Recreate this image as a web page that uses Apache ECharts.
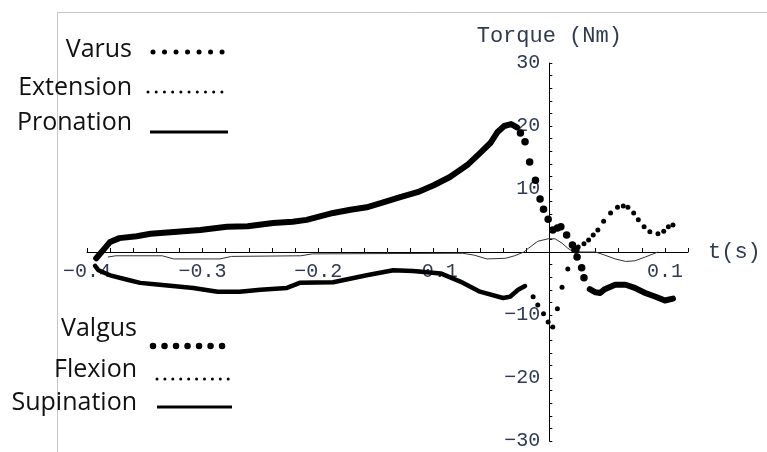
<!DOCTYPE html>
<html>
<head>
<meta charset="utf-8">
<script src="https://cdn.jsdelivr.net/npm/echarts/dist/echarts.min.js"></script>
<style>
  html, body { margin: 0; padding: 0; background: #fff; }
  #chart { width: 767px; height: 452px; }
</style>
</head>
<body>
<div id="chart"></div>
<script>
// varus (+) / valgus (-) : big dots. dense stretches drawn as a thick band
const varusRise = [
  [-0.392, -1.0], [-0.386, 0.3], [-0.380, 1.6], [-0.372, 2.2], [-0.357, 2.5],
  [-0.345, 2.9], [-0.322, 3.2], [-0.302, 3.5], [-0.279, 4.0], [-0.261, 4.1],
  [-0.239, 4.6], [-0.222, 4.8], [-0.210, 5.1], [-0.187, 6.2], [-0.172, 6.7],
  [-0.158, 7.1], [-0.143, 7.9], [-0.129, 8.7], [-0.114, 9.5], [-0.100, 10.6],
  [-0.086, 11.9], [-0.071, 13.8], [-0.060, 15.7], [-0.051, 17.3], [-0.045, 19.0],
  [-0.039, 20.0], [-0.033, 20.3], [-0.028, 19.8]
];
const varusFall = [
  [-0.025, 18.9], [-0.021, 17.5], [-0.017, 14.3], [-0.012, 11.4], [-0.008, 8.4],
  [-0.005, 6.8], [-0.001, 5.2], [0.003, 3.5], [0.007, 3.8], [0.010, 4.0],
  [0.015, 2.7], [0.020, 1.1], [0.023, 0.3], [0.024, -0.8], [0.028, -2.5],
  [0.030, -4.1]
];
const valgusTail = [
  [0.035, -5.9], [0.040, -6.4], [0.044, -6.5], [0.048, -5.9], [0.057, -5.2],
  [0.066, -5.2], [0.074, -5.7], [0.083, -6.5], [0.092, -7.1], [0.100, -7.7],
  [0.107, -7.4]
];

// extension (+) / flexion (-) : small dots
const flexionBand = [
  [-0.393, -2.2], [-0.390, -2.9], [-0.380, -3.7], [-0.365, -4.4], [-0.354, -4.9],
  [-0.337, -5.2], [-0.308, -5.7], [-0.287, -6.3], [-0.268, -6.3], [-0.250, -6.0],
  [-0.227, -5.7], [-0.216, -4.9], [-0.187, -4.8], [-0.158, -3.7], [-0.135, -2.9],
  [-0.118, -3.0], [-0.094, -3.4], [-0.077, -4.7], [-0.060, -6.3], [-0.040, -7.3],
  [-0.034, -7.1], [-0.027, -6.0], [-0.021, -5.4]
];
const extensionDots = [
  [-0.014, -7.1], [-0.010, -8.4], [-0.005, -9.8], [-0.001, -11.1], [0.003, -11.9],
  [0.007, -9.0], [0.011, -5.6], [0.016, -2.7], [0.021, 0.3], [0.025, 0.8],
  [0.030, 1.3], [0.034, 1.9], [0.038, 2.7], [0.042, 3.5], [0.047, 4.9],
  [0.053, 6.2], [0.059, 7.1], [0.064, 7.3], [0.068, 7.1], [0.073, 6.2],
  [0.077, 5.1], [0.082, 4.0], [0.087, 3.2], [0.094, 2.9], [0.099, 3.3],
  [0.103, 4.0], [0.107, 4.3]
];

// pronation (+) / supination (-) : thin line
const pronation = [
  [-0.382, -0.8], [-0.375, -0.6], [-0.335, -0.6], [-0.325, -1.1], [-0.285, -1.1],
  [-0.275, -0.7], [-0.215, -0.6], [-0.205, -0.3], [-0.075, -0.2], [-0.065, -0.5],
  [-0.054, -1.1], [-0.038, -1.0], [-0.030, -0.6], [-0.022, 0.0], [-0.018, 0.6],
  [-0.010, 1.7], [-0.001, 2.1], [0.005, 2.1], [0.011, 1.4], [0.016, 0.6],
  [0.021, 0.0], [0.040, 0.0], [0.048, -0.5], [0.057, -1.1], [0.066, -1.5],
  [0.074, -1.4], [0.083, -0.8], [0.094, 0.0]
];

const xTickLabels = [-0.4, -0.3, -0.2, -0.1, 0.1];
const yTickLabels = [-30, -20, -10, 10, 20, 30];
const topLegend = ['Varus', 'Extension', 'Pronation'];
const bottomLegend = ['Valgus', 'Flexion', 'Supination'];

const monoFont = '"Liberation Mono", "DejaVu Sans Mono", monospace';
const labelColor = '#2f3b52';
const minus = s => String(s).replace('-', '\u2212');

function legendText(txt, x, y) {
  return {
    type: 'text', x: x, y: y,
    style: {
      text: txt, align: 'right', verticalAlign: 'middle',
      fontFamily: '"Open Sans", "Noto Sans", sans-serif', fontSize: 25, fill: '#111'
    }
  };
}
function legendDots(x1, x2, y, size, gap) {
  return {
    type: 'line', shape: {x1: x1, y1: y, x2: x2 + 1, y2: y},
    style: {stroke: '#000', lineWidth: size, lineCap: 'round', lineDash: [0.01, gap]}
  };
}
function legendLine(x1, x2, y) {
  return {type: 'line', shape: {x1: x1, y1: y, x2: x2, y2: y}, style: {stroke: '#000', lineWidth: 3}};
}

const chart = echarts.init(document.getElementById('chart'), null, {renderer: 'canvas'});

// axes cross at the origin: grid spans -0.4..0.12 and -30..30,
// the x axis is lifted to torque 0 and the y axis moved to t = 0 with offsets
const gridLeft = 87, gridRight = 79, gridTop = 63, gridBottom = 11;
const plotW = 767 - gridLeft - gridRight, plotH = 452 - gridTop - gridBottom;
const xMin = -0.4, xMax = 0.12, yMin = -30, yMax = 30;

chart.setOption({
  animation: false,
  backgroundColor: '#fff',
  grid: {left: gridLeft, right: gridRight, top: gridTop, bottom: gridBottom, outerBoundsMode: 'none', containLabel: false},
  xAxis: {
    type: 'value', min: xMin, max: xMax, interval: 0.02,
    offset: -plotH * (0 - yMin) / (yMax - yMin),
    axisLine: {onZero: false, lineStyle: {color: '#000', width: 1}},
    axisTick: {inside: true, length: 4, lineStyle: {color: '#000'}},
    axisLabel: {
      margin: 10, fontFamily: monoFont, fontSize: 20, color: labelColor,
      formatter: v => {
        const r = Math.round(v * 100) / 100;
        return xTickLabels.indexOf(r) >= 0 ? minus(r.toFixed(1)) : '';
      }
    },
    splitLine: {show: false},
    name: 't(s)', nameLocation: 'end', nameGap: 20,
    nameTextStyle: {fontFamily: monoFont, fontSize: 22, color: labelColor}
  },
  yAxis: {
    type: 'value', min: yMin, max: yMax, interval: 10,
    offset: -plotW * (0 - xMin) / (xMax - xMin),
    axisLine: {onZero: false, lineStyle: {color: '#000', width: 1}},
    axisTick: {inside: true, length: 3, lineStyle: {color: '#000'}},
    minorTick: {show: true, splitNumber: 5, length: 3, lineStyle: {color: '#000'}},
    axisLabel: {
      margin: 9, fontFamily: monoFont, fontSize: 20, color: labelColor,
      formatter: v => yTickLabels.indexOf(v) >= 0 ? minus(v) : ''
    },
    splitLine: {show: false},
    name: 'Torque (Nm)', nameLocation: 'end', nameGap: 16,
    nameTextStyle: {fontFamily: monoFont, fontSize: 22, color: labelColor}
  },
  series: [
    {
      type: 'line', data: pronation, showSymbol: false, silent: true,
      lineStyle: {color: '#333', width: 1}, z: 1
    },
    {
      type: 'line', data: varusRise, showSymbol: false, silent: true,
      lineStyle: {color: '#000', width: 6, cap: 'round', join: 'round'}, z: 3
    },
    {
      type: 'scatter', data: varusFall, symbol: 'circle', symbolSize: 7.5,
      itemStyle: {color: '#000', opacity: 1}, z: 3
    },
    {
      type: 'line', data: valgusTail, showSymbol: false, silent: true,
      lineStyle: {color: '#000', width: 6, cap: 'round', join: 'round'}, z: 3
    },
    {
      type: 'line', data: flexionBand, showSymbol: false, silent: true,
      lineStyle: {color: '#000', width: 4.5, cap: 'round', join: 'round'}, z: 2
    },
    {
      type: 'scatter', data: extensionDots, symbol: 'circle', symbolSize: 5,
      itemStyle: {color: '#000', opacity: 1}, z: 2
    }
  ],
  graphic: [
    {type: 'line', shape: {x1: 57.5, y1: 12.5, x2: 767, y2: 12.5}, style: {stroke: '#c6c6c6', lineWidth: 1}, z: -1},
    {type: 'line', shape: {x1: 57.5, y1: 12.5, x2: 57.5, y2: 452}, style: {stroke: '#c6c6c6', lineWidth: 1}, z: -1},
    legendText(topLegend[0], 132, 50),
    legendDots(153, 222, 52, 5, 11.5),
    legendText(topLegend[1], 132, 88),
    legendDots(148, 222, 92, 3, 8.2),
    legendText(topLegend[2], 132, 123),
    legendLine(150, 228, 132),
    legendText(bottomLegend[0], 137, 329),
    legendDots(153, 222, 346, 6.5, 11.5),
    legendText(bottomLegend[1], 137, 370),
    legendDots(157, 228, 379, 3, 7.9),
    legendText(bottomLegend[2], 137, 403),
    legendLine(157, 232, 407)
  ]
});
</script>
</body>
</html>
